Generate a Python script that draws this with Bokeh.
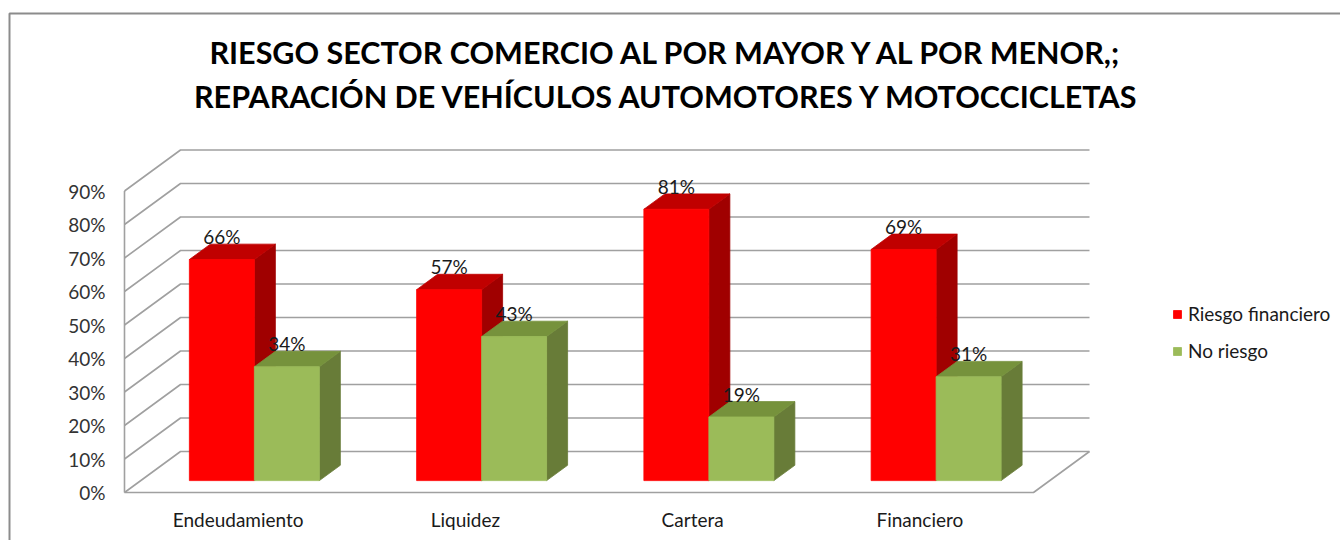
from bokeh.plotting import figure
from bokeh.models import Range1d, Legend, LegendItem
from bokeh.core.properties import value
from bokeh.embed import file_html
from bokeh.resources import INLINE

# ---------------- data ----------------
title_lines = ["RIESGO SECTOR COMERCIO AL POR MAYOR Y AL POR MENOR,;",
               "REPARACIÓN DE VEHÍCULOS AUTOMOTORES Y MOTOCCICLETAS"]
categories = ["Endeudamiento", "Liquidez", "Cartera", "Financiero"]
series_names = ["Riesgo financiero", "No riesgo"]
riesgo_financiero = [66, 57, 81, 69]
no_riesgo = [34, 43, 19, 31]
y_ticks = [0, 10, 20, 30, 40, 50, 60, 70, 80, 90]
y_tick_labels = ["0%", "10%", "20%", "30%", "40%", "50%", "60%", "70%", "80%", "90%"]

# ---------------- layout / style ----------------
W, H = 1340, 540
MARGIN = 0
PX_X = 227.25          # pixels per category unit
PX_Y = 3.35            # pixels per percent
FLOOR_LEFT = 124       # page px of front-left floor corner
FLOOR_FRONT = 492      # page px of front 0% line
DX = 56 / PX_X         # depth offset (x, data units)
DY = 41 / PX_Y         # depth offset (y, data units)
D0, D1 = 0.29, 0.665   # bar front/back depth fraction
BW = 0.286             # bar width (category units)
FONT = "Lato"
FS = "19px"

x_start = -(FLOOR_LEFT - MARGIN) / PX_X
y_start = -(H - (FLOOR_FRONT - MARGIN)) / PX_Y


def px_x(px):
    return x_start + (px - MARGIN) / PX_X


def px_y(py):
    return y_start + (H - (py - MARGIN)) / PX_Y


p = figure(width=W, height=H, output_backend="svg", toolbar_location=None,
           x_range=Range1d(x_start, x_start + W / PX_X),
           y_range=Range1d(y_start, y_start + H / PX_Y),
           x_axis_location=None, y_axis_location=None, min_border=0)
p.outline_line_color = None
p.xgrid.visible = False
p.ygrid.visible = False
p.background_fill_color = "white"

# chart border (left and top edges visible)
p.line(x=[px_x(9), px_x(9), px_x(1400)], y=[px_y(600), px_y(13), px_y(13)],
       line_color="#8c8c8c", line_width=2)

# ---------------- 3D walls / gridlines ----------------
N = len(categories)
grid_xs, grid_ys = [], []
for t in y_ticks:
    grid_xs.append([0, DX, N + DX])
    grid_ys.append([t, t + DY, t + DY])
grid_xs.append([0, 0]); grid_ys.append([0, y_ticks[-1]])
grid_xs.append([0, N, N + DX]); grid_ys.append([0, 0, DY])
p.multi_line(xs=grid_xs, ys=grid_ys, line_color="#a0a0a0", line_width=1.6)

# ---------------- bars ----------------
colors = [("#ff0000", "#c00000", "#a00000"),
          ("#9bbb59", "#76923c", "#687c38")]
series_vals = [riesgo_financiero, no_riesgo]
front_renderers = []
lab_x, lab_y, lab_t = [], [], []
for s, vals in enumerate(series_vals):
    fl, fr, fb, ft = [], [], [], []
    txs, tys, sxs, sys_ = [], [], [], []
    for i, v in enumerate(vals):
        xl = i + 0.5 - BW + s * BW
        xr = xl + BW
        fl.append(xl + D0 * DX); fr.append(xr + D0 * DX)
        fb.append(D0 * DY); ft.append(v + D0 * DY)
        txs.append([xl + D0 * DX, xr + D0 * DX, xr + D1 * DX, xl + D1 * DX])
        tys.append([v + D0 * DY, v + D0 * DY, v + D1 * DY, v + D1 * DY])
        sxs.append([xr + D0 * DX, xr + D1 * DX, xr + D1 * DX, xr + D0 * DX])
        sys_.append([D0 * DY, D1 * DY, v + D1 * DY, v + D0 * DY])
        lab_x.append((xl + xr) / 2 + D0 * DX)
        lab_y.append(v + D0 * DY + 6.8)
        lab_t.append(f"{v}%")
    cf, ct, cs = colors[s]
    p.patches(xs=sxs, ys=sys_, fill_color=cs, line_color=cs, line_width=0.8)
    p.patches(xs=txs, ys=tys, fill_color=ct, line_color=ct, line_width=0.8)
    r = p.quad(left=fl, right=fr, bottom=fb, top=ft, fill_color=cf,
               line_color=cf, line_width=0.8)
    front_renderers.append(r)

# data labels
p.text(x=lab_x, y=lab_y, text=lab_t, text_align="center", text_baseline="middle",
       text_font=value(FONT), text_font_size=FS, text_color="#1a1a1a")

# y tick labels
p.text(x=[-19 / PX_X] * len(y_ticks), y=y_ticks, text=y_tick_labels,
       text_align="right", text_baseline="middle", text_font=value(FONT),
       text_font_size=FS, text_color="#333333")

# category labels
p.text(x=[i + 0.5 for i in range(N)], y=[-27 / PX_Y] * N, text=categories,
       text_align="center", text_baseline="middle", text_font=value(FONT),
       text_font_size=FS, text_color="#1a1a1a")

# title
p.text(x=[px_x(667), px_x(667)], y=[px_y(51), px_y(95)], text=title_lines,
       text_align="center", text_baseline="middle", text_font=value(FONT),
       text_font_style="bold", text_font_size="30.5px", text_color="#000000")

# legend
legend = Legend(items=[LegendItem(label=series_names[k], renderers=[front_renderers[k]])
                       for k in range(2)],
                location=(1172, 178), orientation="vertical",
                glyph_width=10, glyph_height=10, label_standoff=6,
                label_height=20, spacing=14, padding=0, margin=0,
                label_text_font=FONT, label_text_font_size=FS,
                label_text_color="#1a1a1a", border_line_color=None,
                background_fill_alpha=0)
p.add_layout(legend)

open("out.html", "w").write(file_html(p, INLINE))
